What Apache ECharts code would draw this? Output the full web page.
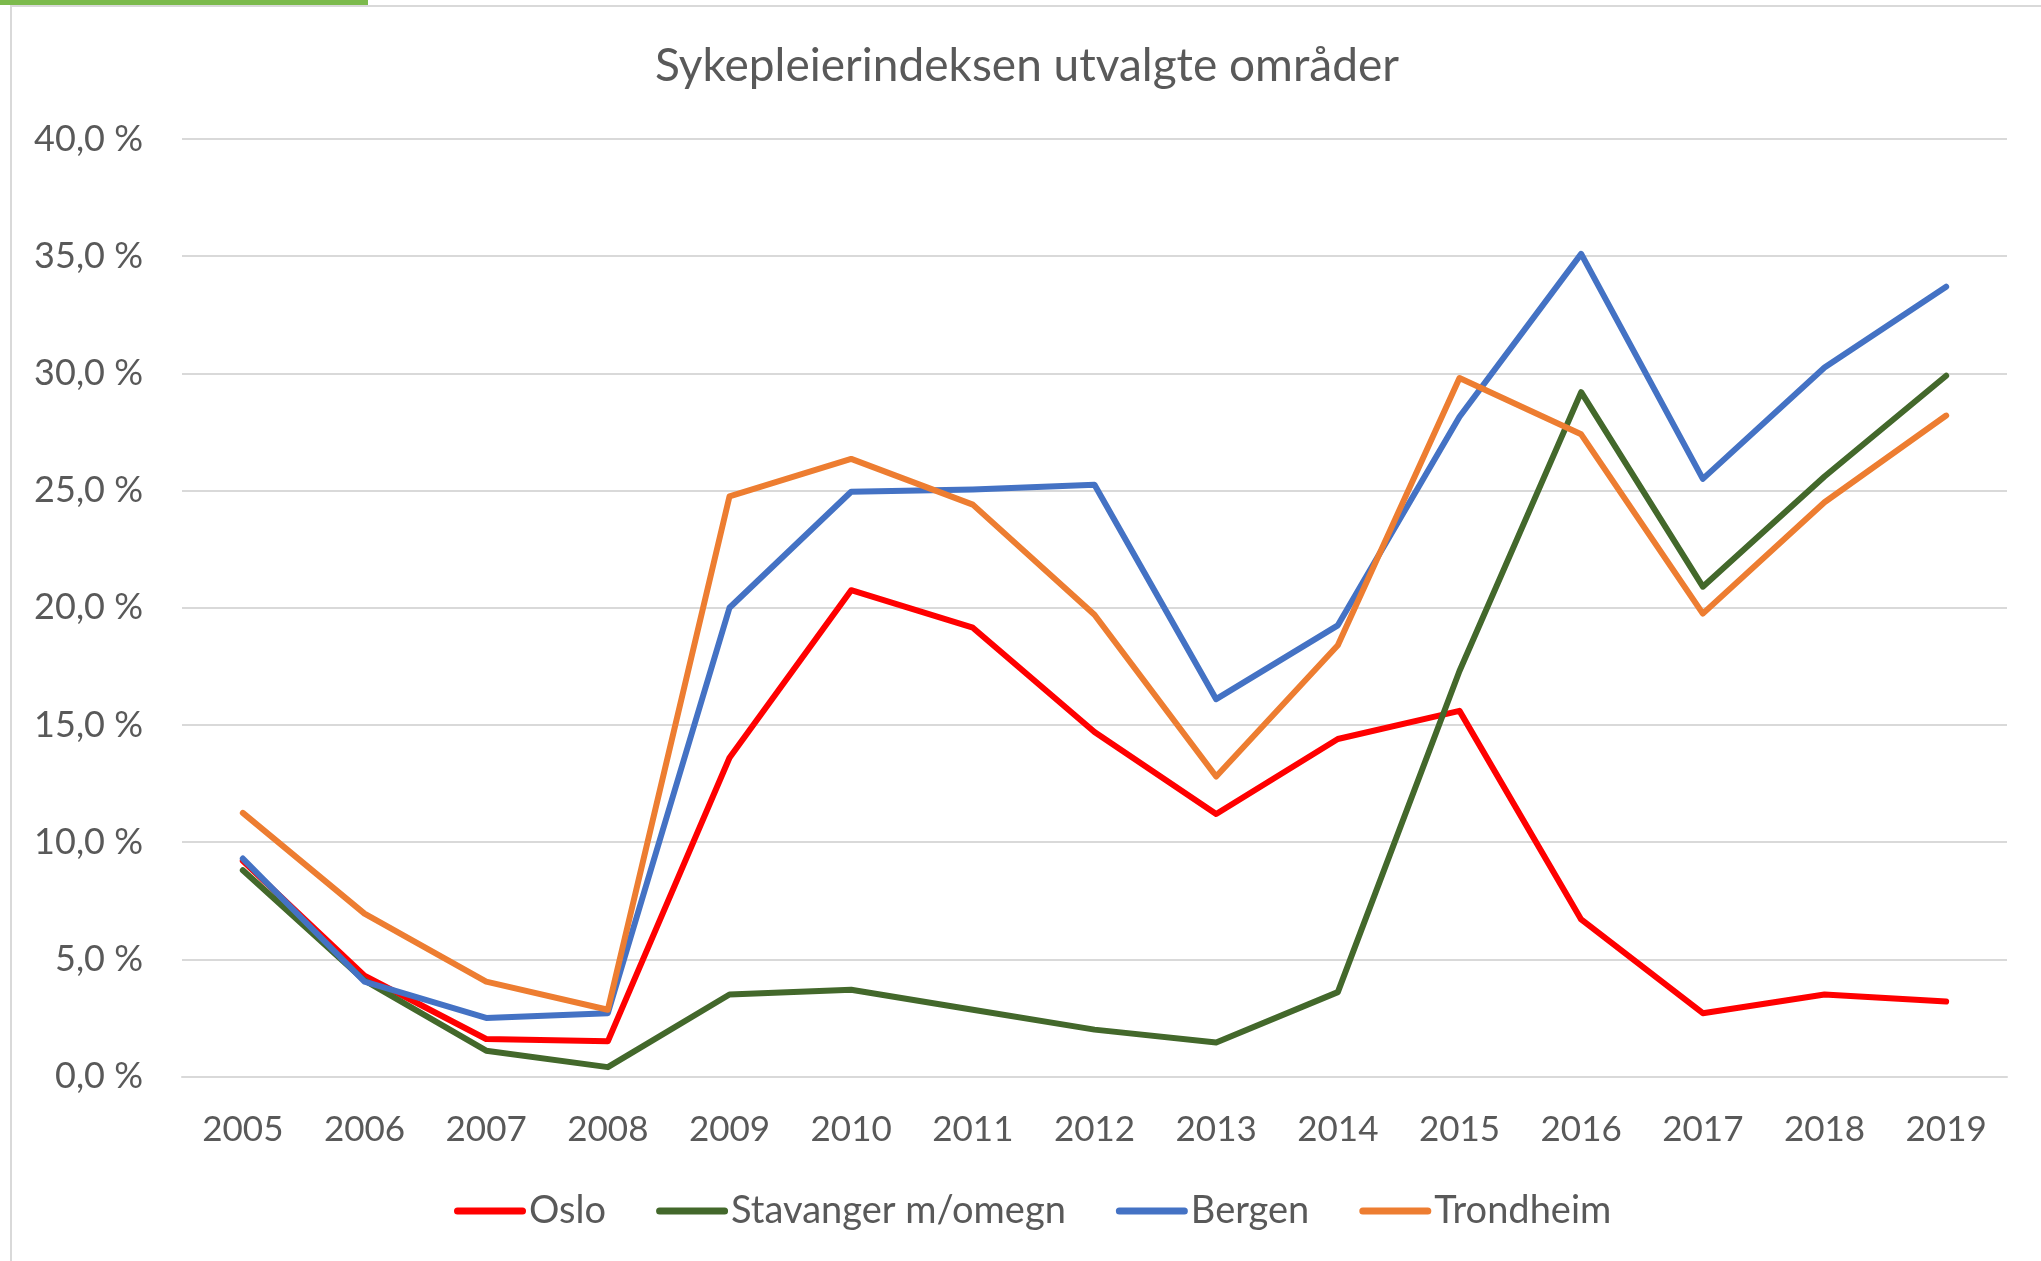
<!DOCTYPE html>
<html>
<head>
<meta charset="utf-8">
<script src="https://cdn.jsdelivr.net/npm/echarts@6/dist/echarts.min.js"></script>
<style>
html,body{margin:0;padding:0;background:#fff;}
#chart{width:2041px;height:1261px;}
</style>
</head>
<body>
<div id="chart"></div>
<script>
const titleText = 'Sykepleierindeksen utvalgte områder';
const years = ['2005','2006','2007','2008','2009','2010','2011','2012','2013','2014','2015','2016','2017','2018','2019'];
const seriesNames = ['Oslo','Stavanger m/omegn','Bergen','Trondheim'];
const oslo      = [9.2, 4.3, 1.6, 1.5, 13.6, 20.75, 19.15, 14.7, 11.2, 14.4, 15.6, 6.7, 2.7, 3.5, 3.2];
const stavanger = [8.8, 4.1, 1.1, 0.4, 3.5, 3.7, 2.85, 2.0, 1.45, 3.6, 17.3, 29.2, 20.9, 25.6, 29.9];
const bergen    = [9.3, 4.05, 2.5, 2.7, 20.0, 24.95, 25.05, 25.25, 16.1, 19.25, 28.15, 35.1, 25.5, 30.25, 33.7];
const trondheim = [11.25, 6.95, 4.05, 2.85, 24.75, 26.35, 24.4, 19.7, 12.8, 18.4, 29.8, 27.4, 19.75, 24.5, 28.2];
const yTicks = {min: 0, max: 40, interval: 5};
const colors = ['#FF0000', '#43682B', '#4472C4', '#ED7D31'];

const FONT = 'Lato, "Open Sans", sans-serif';
const TXT = '#595959';
const pill = 'path://M3.5,0 H68.5 A3.5,3.5 0 0 1 68.5,7 H3.5 A3.5,3.5 0 0 1 3.5,0 Z';

const chart = echarts.init(document.getElementById('chart'), null, {renderer: 'canvas'});
const allData = [oslo, stavanger, bergen, trondheim];

chart.setOption({
  animation: false,
  backgroundColor: '#ffffff',
  color: colors,
  title: {
    text: titleText,
    left: 650,
    top: 38,
    textStyle: {fontFamily: FONT, fontSize: 46, fontWeight: 'normal', color: TXT}
  },
  graphic: [
    {type: 'rect', shape: {x: 0, y: 0, width: 368, height: 5}, style: {fill: '#7CBA4C'}, silent: true},
    {type: 'rect', shape: {x: 10, y: 5, width: 2031, height: 2}, style: {fill: '#D9D9D9'}, silent: true},
    {type: 'rect', shape: {x: 10, y: 5, width: 2, height: 1256}, style: {fill: '#D9D9D9'}, silent: true}
  ],
  legend: {
    data: seriesNames.map((n) => ({name: n, icon: pill})),
    left: 449,
    top: 1187,
    itemWidth: 72,
    itemHeight: 7,
    itemGap: 50,
    textStyle: {fontFamily: FONT, fontSize: 38, color: TXT, padding: [0,0,0,-2]}
  },
  grid: {left: 182, right: 34, top: 139, bottom: 184.5, containLabel: false},
  xAxis: {
    type: 'category',
    data: years,
    boundaryGap: true,
    axisLine: {show: true, lineStyle: {color: '#D9D9D9', width: 2}},
    axisTick: {show: false},
    axisLabel: {fontFamily: FONT, fontSize: 35, color: TXT, margin: 36},
    splitLine: {show: false}
  },
  yAxis: {
    type: 'value',
    min: yTicks.min,
    max: yTicks.max,
    interval: yTicks.interval,
    axisLine: {show: false},
    axisTick: {show: false},
    axisLabel: {
      fontFamily: FONT, fontSize: 36, color: TXT, margin: 39,
      formatter: (v) => v.toFixed(1).replace('.', ',') + ' %'
    },
    splitLine: {show: true, lineStyle: {color: '#D9D9D9', width: 2}}
  },
  series: seriesNames.map((n, i) => ({
    name: n,
    type: 'line',
    data: allData[i],
    showSymbol: false,
    symbol: 'none',
    lineStyle: {width: 6, color: colors[i], cap: 'round', join: 'round'},
    emphasis: {disabled: true}
  }))
});
</script>
</body>
</html>
